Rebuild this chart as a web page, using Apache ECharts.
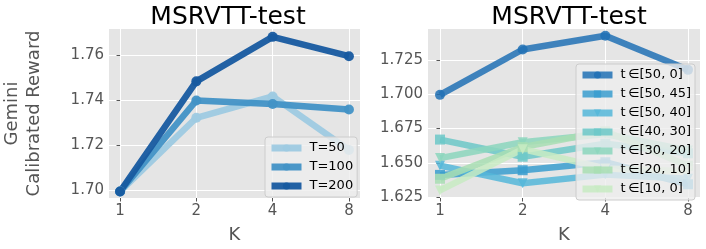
<!DOCTYPE html>
<html><head><meta charset="utf-8">
<script src="https://cdn.jsdelivr.net/npm/echarts@6/dist/echarts.min.js"></script>
<style>html,body{margin:0;padding:0;background:#fff}#c{width:706px;height:249px}</style>
</head><body><div id="c"></div>
<script>
// ---- data ----
var kLabels = ['1', '2', '4', '8'];
var leftNames = ['T=50', 'T=100', 'T=200'];
var leftT50  = [1.6995, 1.7323, 1.7418, 1.7180];
var leftT100 = [1.6995, 1.7400, 1.7384, 1.7360];
var leftT200 = [1.6995, 1.7485, 1.7683, 1.7597];
var leftYTicks = [1.70, 1.72, 1.74, 1.76];

var rightNames = ['t\u2009\u2208[50, 0]', 't\u2009\u2208[50, 45]', 't\u2009\u2208[50, 40]', 't\u2009\u2208[40, 30]', 't\u2009\u2208[30, 20]', 't\u2009\u2208[20, 10]', 't\u2009\u2208[10, 0]'];
var r50_0  = [1.6995, 1.7325, 1.7425, 1.7177];
var r50_45 = [1.6413, 1.6447, 1.6505, 1.6345];
var r50_40 = [1.6480, 1.6352, 1.6415, 1.6385];
var r40_30 = [1.6670, 1.6545, 1.6640, 1.6570];
var r30_20 = [1.6535, 1.6650, 1.6710, 1.6590];
var r20_10 = [1.6385, 1.6615, 1.6730, 1.6480];
var r10_0  = [1.6300, 1.6600, 1.6460, 1.6440];
var rightYTicks = [1.625, 1.650, 1.675, 1.700, 1.725];

// ---- chart ----
var FONT = 'DejaVu Sans';
var kIdx = kLabels.map(function (_, i) { return i; });
function pts(vals) { return vals.map(function (v, i) { return [i, v]; }); }

function xAxis(gi) {
  return {
    type: 'value', gridIndex: gi, min: -0.145, max: 3.145,
    name: 'K', nameLocation: 'middle', nameGap: 28,
    nameTextStyle: { fontFamily: FONT, fontSize: 18, color: '#555' },
    axisLine: { show: false },
    axisTick: { show: true, customValues: kIdx, length: 3.5, lineStyle: { color: '#555' } },
    axisLabel: { customValues: kIdx, margin: 6, fontFamily: FONT, fontSize: 15, color: '#555',
      formatter: function (v) { return kLabels[Math.round(v)]; } },
    splitLine: { show: true, lineStyle: { color: '#fff', width: 1 } }
  };
}
function yAxis(gi, min, max, ticks, dec, name) {
  return {
    type: 'value', gridIndex: gi, min: min, max: max,
    name: name || '', nameLocation: 'middle', nameGap: 64, nameRotate: 90,
    nameTextStyle: { fontFamily: FONT, fontSize: 18, color: '#555', lineHeight: 22, align: 'center' },
    axisLine: { show: false },
    axisTick: { show: true, customValues: ticks, length: 3.5, lineStyle: { color: '#555' } },
    axisLabel: { customValues: ticks, margin: 5, fontFamily: FONT, fontSize: 15, color: '#555',
      formatter: function (v) { return v.toFixed(dec); } },
    splitLine: { show: true, lineStyle: { color: '#fff', width: 1 } }
  };
}
function line(name, vals, color, gi, symbol, op) {
  return {
    type: 'line', name: name, xAxisIndex: gi, yAxisIndex: gi,
    data: pts(vals), symbol: symbol, symbolSize: 10,
    lineStyle: { width: 6.5, color: color, opacity: op },
    itemStyle: { color: color, opacity: op },
    emphasis: { disabled: true }, animation: false
  };
}

var leftColors = ['#9ecae1', '#4292c6', '#175aa0'];
var rightColors = ['#2171b5', '#3a9dcf', '#55b7d9', '#6cc8c8', '#8cd6bd', '#a8deb3', '#c8ebc3'];
var rightSymbols = ['circle', 'rect', 'triangle', 'rect', 'triangle', 'rect', 'triangle'];
var rightVals = [r50_0, r50_45, r50_40, r40_30, r30_20, r20_10, r10_0];
var leftVals = [leftT50, leftT100, leftT200];

var series = [];
leftVals.forEach(function (v, i) { series.push(line(leftNames[i], v, leftColors[i], 0, 'circle', 0.95)); });
rightVals.forEach(function (v, i) {
  var s = line(rightNames[i], v, rightColors[i], 1, rightSymbols[i], 0.85);
  if (rightSymbols[i] === 'triangle') s.symbolRotate = 180;
  series.push(s);
});

var legendBase = {
  orient: 'vertical', itemWidth: 30, itemHeight: 9, itemGap: 3,
  backgroundColor: 'rgba(238,238,238,0.8)', borderColor: '#cccccc', borderWidth: 1, borderRadius: 3,
  lineStyle: { width: 7 },
  textStyle: { fontFamily: FONT, fontSize: 13, color: '#000', lineHeight: 16, padding: [0, 0, 0, 3] },
  inactiveColor: '#ccc', selectedMode: false
};

var option = {
  backgroundColor: '#fff',
  animation: false,
  title: [
    { text: 'MSRVTT-test', left: 223, top: 0, textAlign: 'center',
      textStyle: { fontFamily: FONT, fontSize: 25, fontWeight: 'normal', color: '#000' } },
    { text: 'MSRVTT-test', left: 564, top: 0, textAlign: 'center',
      textStyle: { fontFamily: FONT, fontSize: 25, fontWeight: 'normal', color: '#000' } }
  ],
  grid: [
    { left: 87, top: 29, width: 273, height: 175, show: true, backgroundColor: '#E5E5E5', borderWidth: 0 },
    { left: 428, top: 29, width: 272, height: 175, show: true, backgroundColor: '#E5E5E5', borderWidth: 0 }
  ],
  xAxis: [xAxis(0), xAxis(1)],
  yAxis: [
    yAxis(0, 1.6966, 1.7718, leftYTicks, 2, 'Gemini\nCalibrated Reward'),
    yAxis(1, 1.6245, 1.7474, rightYTicks, 3)
  ],
  legend: [
    Object.assign({}, legendBase, { data: leftNames, left: 265, top: 137, padding: [3, 4, 3, 3] }),
    Object.assign({}, legendBase, { data: rightNames, left: 576, top: 64, padding: [3, 4, 3, 3] })
  ],
  series: series
};
var chart = echarts.init(document.getElementById('c'), null, { renderer: 'canvas' });
chart.setOption(option);
</script></body></html>
